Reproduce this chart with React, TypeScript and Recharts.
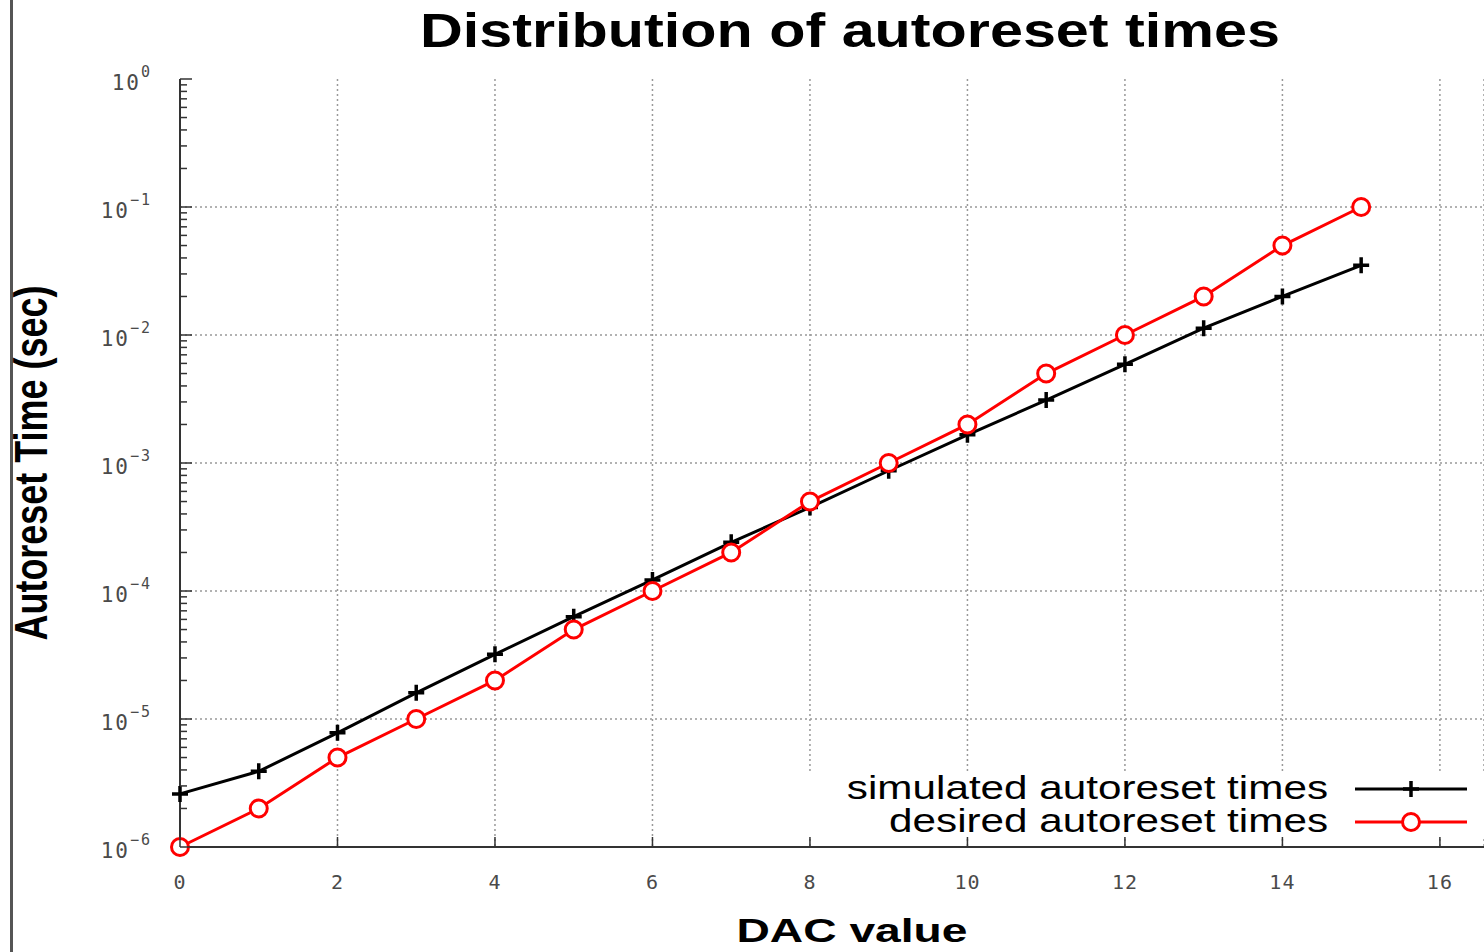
import React from 'react';
import { LineChart, Line, XAxis, YAxis, CartesianGrid, ReferenceLine, Legend } from 'recharts';

const dacValues = [0, 1, 2, 3, 4, 5, 6, 7, 8, 9, 10, 11, 12, 13, 14, 15];
const simulatedTimes = [
  2.6e-6, 3.9e-6, 7.8e-6, 1.6e-5, 3.2e-5, 6.3e-5, 1.22e-4, 2.4e-4,
  4.5e-4, 8.7e-4, 1.66e-3, 3.1e-3, 5.9e-3, 1.13e-2, 2.0e-2, 3.5e-2,
];
const desiredTimes = [
  1e-6, 2e-6, 5e-6, 1e-5, 2e-5, 5e-5, 1e-4, 2e-4,
  5e-4, 1e-3, 2e-3, 5e-3, 1e-2, 2e-2, 5e-2, 1e-1,
];
const xTicks = [0, 2, 4, 6, 8, 10, 12, 14, 16];
const decadeTicks = [1e-6, 1e-5, 1e-4, 1e-3, 1e-2, 1e-1, 1];
const minorMultipliers = [2, 3, 4, 5, 6, 7, 8, 9];
const seriesOrder = ['simulated', 'desired'];

const chartData = dacValues.map((dac, i) => ({
  dac,
  simulated: simulatedTimes[i],
  desired: desiredTimes[i],
}));

const yTicks = [
  ...decadeTicks,
  ...decadeTicks.slice(0, -1).flatMap((d) => minorMultipliers.map((m) => m * d)),
];

const tickFont = '"DejaVu Sans Mono", monospace';
const textFont = '"Liberation Sans", Arial, sans-serif';
const axisColor = '#333';
const gridColor = '#999';
const tickText = '#4a4a4a';

function YTick(props: any) {
  const { x, y, payload } = props;
  const exp = Math.log10(payload.value);
  const major = Math.abs(exp - Math.round(exp)) < 1e-6;
  const e = Math.round(exp);
  return (
    <g>
      <line x1={x} x2={x + (major ? 12 : 7)} y1={y} y2={y} stroke={axisColor} strokeWidth={1.5} />
      {major && (
        <text x={x - 28} y={y + 11} textAnchor="end" fontFamily={tickFont} fontSize={21} fill={tickText} letterSpacing={2}>
          <tspan>10</tspan>
          <tspan dy={-13} fontSize={15}>{e < 0 ? `\u2212${-e}` : `${e}`}</tspan>
        </text>
      )}
    </g>
  );
}

function XTick(props: any) {
  const { x, y, payload } = props;
  return (
    <g>
      <line x1={x} x2={x} y1={y} y2={y - 10} stroke={axisColor} strokeWidth={1.5} />
      <text x={x} y={y + 42} textAnchor="middle" fontFamily={tickFont} fontSize={20} fill={tickText} letterSpacing={1}>
        {payload.value}
      </text>
    </g>
  );
}

function TopTick(props: any) {
  const { x, y } = props;
  return <line x1={x} x2={x} y1={y} y2={y + 10} stroke={axisColor} strokeWidth={1.5} />;
}

function PlusDot(props: any) {
  const { cx, cy, index } = props;
  if (cx == null || cy == null) return <g key={`p-${index}`} />;
  return (
    <path
      key={`p-${index}`}
      d={`M${cx - 8},${cy}H${cx + 8}M${cx},${cy - 8}V${cy + 8}`}
      stroke="#000"
      strokeWidth={3.5}
      fill="none"
    />
  );
}

function CircleDot(props: any) {
  const { cx, cy, index } = props;
  if (cx == null || cy == null) return <g key={`c-${index}`} />;
  return <circle key={`c-${index}`} cx={cx} cy={cy} r={8.5} fill="#fff" stroke="#ff0000" strokeWidth={3} />;
}

function KeyBox(props: any) {
  const items = [...(props.payload || [])].sort(
    (a: any, b: any) => seriesOrder.indexOf(a.dataKey) - seriesOrder.indexOf(b.dataKey)
  );
  return (
    <svg width={684} height={84} style={{ display: 'block', overflow: 'visible' }}>
      <rect x={0} y={10} width={684} height={64} fill="#fff" />
      {items.map((entry: any, i: number) => {
        const rowY = 26 + i * 33;
        const mx = 611;
        return (
          <g key={entry.dataKey}>
            <text
              transform={`translate(528, ${rowY + 10}) scale(1.28, 1)`}
              textAnchor="end"
              fontFamily={textFont}
              fontSize={33}
              fill="#000"
            >
              {entry.value}
            </text>
            <line x1={555} x2={667} y1={rowY} y2={rowY} stroke={entry.color} strokeWidth={3} />
            {entry.dataKey === 'simulated' ? (
              <path d={`M${mx - 8},${rowY}H${mx + 8}M${mx},${rowY - 8}V${rowY + 8}`} stroke="#000" strokeWidth={3.5} />
            ) : (
              <circle cx={mx} cy={rowY} r={8.5} fill="#fff" stroke="#ff0000" strokeWidth={3} />
            )}
          </g>
        );
      })}
    </svg>
  );
}

export default function App() {
  return (
    <div style={{ position: 'absolute', left: 0, top: 0, width: 1484, height: 952, background: '#fff', overflow: 'hidden' }}>
      <LineChart width={1484} height={952} data={chartData} margin={{ top: 79, right: 0, bottom: 0, left: 0 }}>
        <CartesianGrid horizontal={false} stroke={gridColor} strokeDasharray="2 3" strokeWidth={1.5} />
        {decadeTicks.slice(1, -1).map((v) => (
          <ReferenceLine key={v} y={v} stroke={gridColor} strokeDasharray="2 3" strokeWidth={1.5} />
        ))}
        <XAxis
          dataKey="dac"
          type="number"
          domain={[0, 16.56]}
          ticks={xTicks}
          interval={0}
          height={105}
          tickSize={0}
          tickMargin={0}
          tick={XTick}
          stroke={axisColor}
          strokeWidth={2}
        />
        <XAxis
          xAxisId="top"
          orientation="top"
          type="number"
          domain={[0, 16.56]}
          ticks={xTicks}
          interval={0}
          height={0}
          tickSize={0}
          tickMargin={0}
          tick={TopTick}
          stroke={axisColor}
          strokeWidth={2}
        />
        <YAxis
          type="number"
          scale="log"
          domain={[1e-6, 1]}
          ticks={yTicks}
          interval={0}
          width={180}
          tickSize={0}
          tickMargin={0}
          tick={YTick}
          stroke={axisColor}
          strokeWidth={2}
        />
        <Line
          dataKey="simulated"
          name="simulated autoreset times"
          stroke="#000"
          strokeWidth={3}
          dot={PlusDot}
          activeDot={false}
          isAnimationActive={false}
        />
        <Line
          dataKey="desired"
          name="desired autoreset times"
          stroke="#ff0000"
          strokeWidth={3}
          dot={CircleDot}
          activeDot={false}
          isAnimationActive={false}
        />
        <Legend
          layout="horizontal"
          verticalAlign="middle"
          align="center"
          content={KeyBox}
          wrapperStyle={{ left: 800, top: 763, width: 684, height: 84 }}
        />
      </LineChart>
      <svg width={1484} height={952} style={{ position: 'absolute', left: 0, top: 0, pointerEvents: 'none' }}>
        <rect x={10} y={0} width={3} height={952} fill="#555" />
        <text x={850} y={47} textAnchor="middle" fontFamily={textFont} fontWeight="bold" fontSize={49} textLength={860} lengthAdjust="spacingAndGlyphs">
          Distribution of autoreset times
        </text>
        <text x={852} y={942} textAnchor="middle" fontFamily={textFont} fontWeight="bold" fontSize={34} textLength={231} lengthAdjust="spacingAndGlyphs">
          DAC value
        </text>
        <g transform="translate(47, 463) scale(1.27, 1) rotate(-90)">
          <text x={0} y={0} textAnchor="middle" fontFamily={textFont} fontWeight="bold" fontSize={36} textLength={355} lengthAdjust="spacingAndGlyphs">
            Autoreset Time (sec)
          </text>
        </g>
      </svg>
    </div>
  );
}
